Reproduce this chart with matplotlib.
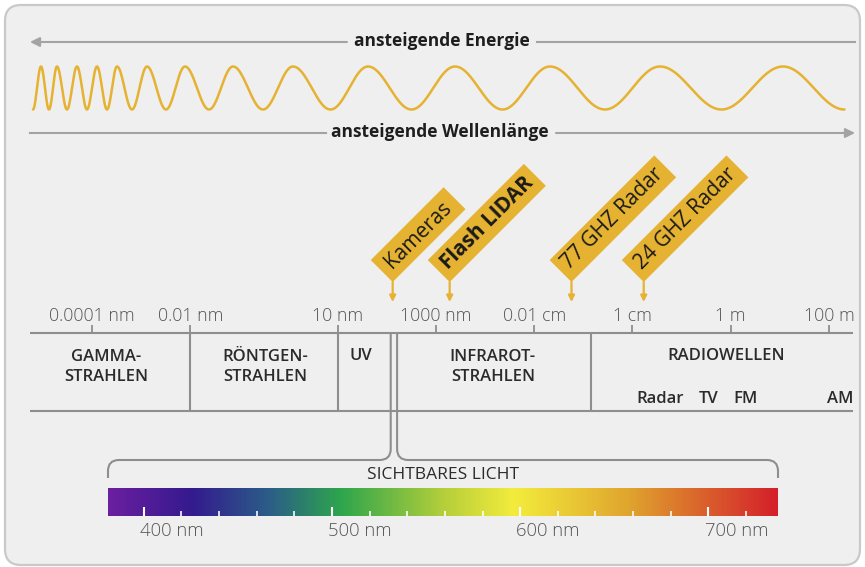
import numpy as np
import matplotlib.pyplot as plt
import matplotlib.transforms as mtransforms
from matplotlib.colors import LinearSegmentedColormap
from matplotlib.patches import FancyBboxPatch, Rectangle, PathPatch
from matplotlib.path import Path

plt.rcParams['font.family'] = ['Open Sans', 'DejaVu Sans']

# main scale: x in decades, log10 of the wavelength in metres
scale_ticks = [-13, -11, -8, -6, -4, -2, 0, 2]
scale_labels = ['0.0001 nm', '0.01 nm', '10 nm', '1000 nm', '0.01 cm', '1 cm', '1 m', '100 m']
band_edges = [-11, -8, -2.84]
visible_edges = [-6.92, -6.79]
band_names = ['GAMMA-\nSTRAHLEN', 'RÖNTGEN-\nSTRAHLEN', 'UV', 'INFRAROT-\nSTRAHLEN', 'RADIOWELLEN']
band_centers = [-12.71, -9.48, -7.53, -4.84, -0.1]
radio_names = ['Radar', 'TV', 'FM', 'AM']
radio_centers = [-1.43, -0.44, 0.31, 2.22]
sensor_names = ['Kameras', 'Flash LIDAR', '77 GHZ Radar', '24 GHZ Radar']
sensor_pos = [-6.88, -5.72, -3.24, -1.77]

# visible light in nm
visible_range = [381, 737]
spectrum_nm = [381, 425, 466, 505, 560, 597, 657, 737]
spectrum_colors = ['#6a1fa0', '#341a8e', '#2b5d88', '#2ea64c', '#b6cf3a', '#f3ec3c', '#e0a62e', '#d4202a']
nm_major = [400, 500, 600, 700]
nm_minor = list(range(400, 721, 20))

# top wave, x of the crests in px
wave_peaks = [41, 57, 77, 97, 117, 147, 185, 233, 293, 368, 455, 550, 660, 783]

# layout (pixels)
W_PX, H_PX = 865, 567
DEC0_PX, DEC_PX = 92, 49.13
BAR_L, BAR_R, BAR_TOP, BAR_BOT = 108, 778, 487.5, 516
TAG_W = 31
tag_len = [103, 136, 148, 148]
APEX_Y = 282

YELLOW = '#e5b231'
LINE = '#8e8e8e'
DARK = '#2b2b2b'
GREY_TXT = '#555555'


def dec(p):
    return (p - DEC0_PX) / DEC_PX - 13


fig = plt.figure(figsize=(W_PX / 100, H_PX / 100), dpi=100)
fig.patch.set_facecolor('white')

deco = fig.add_axes([0, 0, 1, 1])
deco.set_xlim(0, W_PX)
deco.set_ylim(H_PX, 0)
deco.axis('off')

ax = fig.add_axes([0, 0, 1, 1])
ax.set_xlim(dec(0), dec(W_PX))
ax.set_ylim(H_PX, 0)
ax.axis('off')
ax.patch.set_visible(False)

# panel
deco.add_patch(FancyBboxPatch((5, 5), 855, 560, boxstyle='round,pad=0,rounding_size=16',
                              facecolor='#efefef', edgecolor='#c9c9c9', lw=1.6))

# header arrows
arr = dict(arrowstyle='-|>', color='#a3a3a3', lw=1.5, mutation_scale=14, shrinkA=0, shrinkB=0)
deco.annotate('', xy=(30, 42), xytext=(347, 42), arrowprops=arr)
deco.plot([537, 855], [42, 42], color='#a3a3a3', lw=1.5)
deco.text(442, 41, 'ansteigende Energie', ha='center', va='center', fontsize=12.5,
          fontweight='bold', color='#1e1e1e')
deco.plot([30, 326], [133, 133], color='#a3a3a3', lw=1.5)
deco.annotate('', xy=(855, 133), xytext=(556, 133), arrowprops=arr)
deco.text(440, 132, 'ansteigende Wellenlänge', ha='center', va='center', fontsize=12.5,
          fontweight='bold', color='#1e1e1e')

# wave with growing wavelength
knots = [wave_peaks[0] - (wave_peaks[1] - wave_peaks[0]) / 2] + wave_peaks + \
        [wave_peaks[-1] + (wave_peaks[-1] - wave_peaks[-2]) / 2]
phase = np.pi * np.array([-1] + [2 * i for i in range(len(wave_peaks))] + [2 * len(wave_peaks) - 1])
wx = np.linspace(knots[0], knots[-1], 3000)
wy = 88 - 21.5 * np.cos(np.interp(wx, knots, phase))
deco.plot(wx, wy, color=YELLOW, lw=1.8, solid_capstyle='round')

# table lines
ax.hlines([333, 411], dec(30), dec(853), color=LINE, lw=1.5)
ax.vlines(scale_ticks, 325, 333, color=LINE, lw=1.3)
ax.vlines(band_edges, 333, 411, color=LINE, lw=1.5)
for t, lab in zip(scale_ticks, scale_labels):
    ax.text(t, 316, lab, ha='center', va='center', fontsize=12.8, fontweight='light', color=GREY_TXT)
for c, name in zip(band_centers, band_names):
    ax.text(c, 356 if '\n' not in name else 367, name, ha='center', va='center', fontsize=12,
            fontweight='semibold', color=DARK, linespacing=1.35)
for c, name in zip(radio_centers, radio_names):
    ax.text(c, 399, name, ha='center', va='center', fontsize=12, fontweight='semibold', color=DARK)

# visible light lines turning into the brace
rx, ry = 11 / DEC_PX, 11
v0, v1 = visible_edges
bl, br = dec(BAR_L), dec(BAR_R)
y_br = 460
left = Path([(v0, 333), (v0, y_br - ry), (v0, y_br), (v0 - rx, y_br), (bl + rx, y_br), (bl, y_br), (bl, y_br + ry),
             (bl, 478)],
            [Path.MOVETO, Path.LINETO, Path.CURVE3, Path.CURVE3, Path.LINETO, Path.CURVE3, Path.CURVE3, Path.LINETO])
right = Path([(v1, 333), (v1, y_br - ry), (v1, y_br), (v1 + rx, y_br), (br - rx, y_br), (br, y_br), (br, y_br + ry),
              (br, 478)],
             [Path.MOVETO, Path.LINETO, Path.CURVE3, Path.CURVE3, Path.LINETO, Path.CURVE3, Path.CURVE3, Path.LINETO])
for p in (left, right):
    ax.add_patch(PathPatch(p, facecolor='none', edgecolor=LINE, lw=1.5))

# sensor tags
for name, pos, L in zip(sensor_names, sensor_pos, tag_len):
    tr = mtransforms.Affine2D().rotate_deg(45) + mtransforms.ScaledTranslation(pos, APEX_Y, ax.transData)
    ax.add_patch(Rectangle((0, 0), L, TAG_W, transform=tr, facecolor=YELLOW, edgecolor='none', clip_on=False))
    ax.text(L / 2, TAG_W / 2, name, transform=tr, rotation=45, rotation_mode='anchor', ha='center',
            va='center', fontsize=15, color='#1a1a1a',
            fontweight='bold' if name == 'Flash LIDAR' else 'normal')
    ax.annotate('', xy=(pos, 302), xytext=(pos, APEX_Y),
                arrowprops=dict(arrowstyle='-|>', color=YELLOW, lw=1.6, mutation_scale=9, shrinkA=0, shrinkB=0))

# visible spectrum bar
sp = fig.add_axes([BAR_L / W_PX, 1 - BAR_BOT / H_PX, (BAR_R - BAR_L) / W_PX, (BAR_BOT - BAR_TOP) / H_PX])
stops = [(v - visible_range[0]) / (visible_range[1] - visible_range[0]) for v in spectrum_nm]
cmap = LinearSegmentedColormap.from_list('spectrum', list(zip(stops, spectrum_colors)))
sp.imshow(np.linspace(0, 1, 800)[None, :], extent=[visible_range[0], visible_range[1], 0, 1],
          aspect='auto', cmap=cmap, interpolation='bilinear')
sp.set_xlim(*visible_range)
sp.set_ylim(0, 1)
sp.axis('off')
bar_h = BAR_BOT - BAR_TOP
sp.vlines(nm_minor, 0, 5 / bar_h, color='white', lw=1.3, alpha=0.9)
sp.vlines(nm_major, 0, 9.5 / bar_h, color='white', lw=1.5)
for v in nm_major:
    sp.text(v - 2, -(531.5 - BAR_BOT) / bar_h, f'{v} nm', ha='left', va='center', fontsize=13.3,
            fontweight='light', color=GREY_TXT, clip_on=False)
sp.text(np.mean(visible_range), (BAR_BOT - 475) / bar_h, 'SICHTBARES LICHT', ha='center', va='center',
        fontsize=12.5, color=DARK, clip_on=False)

fig.savefig('out.png', dpi=100)
